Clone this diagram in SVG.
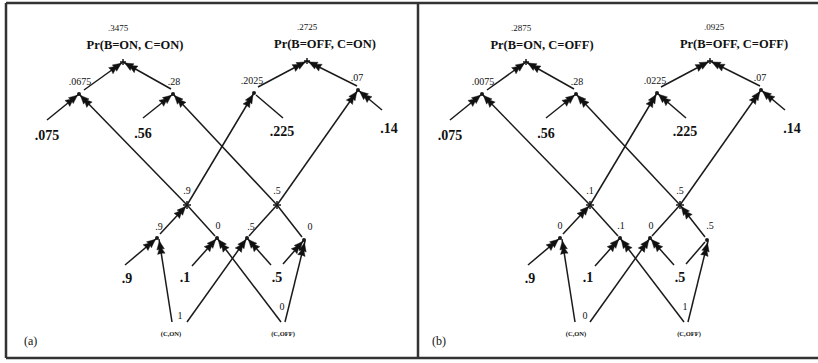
<svg xmlns="http://www.w3.org/2000/svg" width="818" height="363" viewBox="0 0 818 363">
<style>
.ln{stroke:#1a1a1a;stroke-width:1.5;fill:none}
.ar{marker-end:url(#dbl)}
.dot{fill:#1a1a1a}
.pl{stroke:#1a1a1a;stroke-width:1.5;fill:none}
text{font-family:"Liberation Serif","Times New Roman",serif;fill:#111;text-anchor:middle}
.leaf{font-size:14px;font-weight:bold}
.val{font-size:10px}
.top{font-size:9px}
.pr{font-size:12.5px;font-weight:bold}
.ev{font-size:6.5px;font-weight:bold}
.pan{font-size:12px;text-anchor:start}
.frame{stroke:#333;stroke-width:2.5;fill:none}
</style>
<defs>
<marker id="dbl" markerUnits="userSpaceOnUse" viewBox="-15 -5 18 10" refX="2" refY="0" markerWidth="18" markerHeight="10" orient="auto">
<path d="M0,0 L-8.5,-3.8 L-7.8,0 L-8.5,3.8 Z M-5,0 L-13,-3.8 L-12.3,0 L-13,3.8 Z" fill="#111" stroke="#111" stroke-width="0.4" stroke-linejoin="round"/>
</marker>
</defs>
<rect width="818" height="363" fill="#fff"/>
<path class="frame" d="M6,3 V358 M6,3 H818 M6,358 H818 M418,3 V358"/>

<!-- Panel (a) -->
<g id="panel-a">
<g id="connectors-a">
<path class="ln ar" d="M84,90 L123,62"/>
<path class="ln ar" d="M171,89 L123,62"/>
<path class="ln ar" d="M258,87 L307,61"/>
<path class="ln ar" d="M357,86 L307,61"/>
<path class="ln ar" d="M47,120 L79,94"/>
<path class="ln ar" d="M143,118 L173,94"/>
<path class="ln" d="M283,118 L256,95"/>
<path class="ln ar" d="M382,110 L358,90"/>
<path class="ln ar" d="M187,205 L79,94"/>
<path class="ln ar" d="M187,205 L254,93"/>
<path class="ln ar" d="M277,205 L173,94"/>
<path class="ln ar" d="M277,205 L358,90"/>
<path class="ln ar" d="M160,234 L187,205"/>
<path class="ln" d="M215,236 L187,205"/>
<path class="ln" d="M249,236 L277,205"/>
<path class="ln" d="M302,237 L277,205"/>
<path class="ln ar" d="M125,265 L157,238"/>
<path class="ln ar" d="M172,322 L159,239"/>
<path class="ln ar" d="M192,266 L217,238"/>
<path class="ln ar" d="M281,322 L217,238"/>
<path class="ln ar" d="M187,322 L247,238"/>
<path class="ln ar" d="M271,265 L247,238"/>
<path class="ln ar" d="M283,264 L304,240"/>
<path class="ln ar" d="M285,322 L305,241"/>
</g>
<g id="a-top1"><path class="pl" d="M120,62 H126 M123,59 V65"/><text class="top" x="118" y="31">.3475</text><text class="pr" x="135" y="49">Pr(B=ON, C=ON)</text></g>
<g id="a-top2"><path class="pl" d="M304,61 H310 M307,58 V64"/><text class="top" x="307" y="30">.2725</text><text class="pr" x="325" y="48">Pr(B=OFF, C=ON)</text></g>
<g id="a-p1"><circle class="dot" cx="79" cy="94" r="2"/><text class="val" x="80" y="85">.0675</text></g>
<g id="a-p2"><circle class="dot" cx="173" cy="94" r="2"/><text class="val" x="174" y="85">.28</text></g>
<g id="a-p3"><circle class="dot" cx="254" cy="93" r="2"/><text class="val" x="252" y="84">.2025</text></g>
<g id="a-p4"><circle class="dot" cx="358" cy="90" r="2"/><text class="val" x="357" y="81">.07</text></g>
<g id="a-l1"><text class="leaf" x="47" y="140">.075</text></g>
<g id="a-l2"><text class="leaf" x="143" y="138">.56</text></g>
<g id="a-l3"><text class="leaf" x="282" y="136">.225</text></g>
<g id="a-l4"><text class="leaf" x="389" y="133">.14</text></g>
<g id="a-s1"><path class="pl" d="M183,205 H191 M187,201 V209"/><text class="val" x="187" y="194">.9</text></g>
<g id="a-s2"><path class="pl" d="M273,205 H281 M277,201 V209"/><text class="val" x="277" y="194">.5</text></g>
<g id="a-na"><circle class="dot" cx="157" cy="238" r="2"/><text class="val" x="159" y="230">.9</text></g>
<g id="a-nb"><circle class="dot" cx="217" cy="238" r="2"/><text class="val" x="218" y="229">0</text></g>
<g id="a-nc"><circle class="dot" cx="247" cy="238" r="2"/><text class="val" x="251" y="230">.5</text></g>
<g id="a-nd"><circle class="dot" cx="304" cy="240" r="2"/><text class="val" x="310" y="230">0</text></g>
<g id="a-q1"><text class="leaf" x="127" y="283">.9</text></g>
<g id="a-q2"><text class="leaf" x="185" y="282">.1</text></g>
<g id="a-q3"><text class="leaf" x="277" y="282">.5</text></g>
<g id="a-e1"><text class="ev" x="171" y="336">(C,ON)</text><text class="val" x="180" y="319">1</text></g>
<g id="a-e2"><text class="ev" x="283" y="336">(C,OFF)</text><text class="val" x="282" y="310">0</text></g>
<text class="pan" x="24" y="345">(a)</text>
</g>

<!-- Panel (b) -->
<g id="panel-b" transform="translate(403,0)">
<g id="connectors-b">
<path class="ln ar" d="M84,90 L123,62"/>
<path class="ln ar" d="M171,89 L123,62"/>
<path class="ln ar" d="M258,87 L307,61"/>
<path class="ln ar" d="M357,86 L307,61"/>
<path class="ln ar" d="M47,120 L79,94"/>
<path class="ln ar" d="M143,118 L173,94"/>
<path class="ln ar" d="M283,118 L254,93"/>
<path class="ln ar" d="M382,110 L358,90"/>
<path class="ln ar" d="M187,205 L79,94"/>
<path class="ln ar" d="M187,205 L254,93"/>
<path class="ln ar" d="M277,205 L173,94"/>
<path class="ln ar" d="M277,205 L358,90"/>
<path class="ln ar" d="M160,234 L187,205"/>
<path class="ln" d="M215,236 L187,205"/>
<path class="ln" d="M249,236 L277,205"/>
<path class="ln ar" d="M302,237 L277,205"/>
<path class="ln ar" d="M125,265 L157,238"/>
<path class="ln ar" d="M172,322 L159,239"/>
<path class="ln ar" d="M192,266 L217,238"/>
<path class="ln ar" d="M281,322 L217,238"/>
<path class="ln ar" d="M187,322 L247,238"/>
<path class="ln ar" d="M271,265 L247,238"/>
<path class="ln" d="M283,264 L302,242"/>
<path class="ln ar" d="M285,322 L305,241"/>
</g>
<g id="b-top1"><path class="pl" d="M120,62 H126 M123,59 V65"/><text class="top" x="118" y="31">.2875</text><text class="pr" x="139" y="49">Pr(B=ON, C=OFF)</text></g>
<g id="b-top2"><path class="pl" d="M304,61 H310 M307,58 V64"/><text class="top" x="311" y="30">.0925</text><text class="pr" x="331" y="48">Pr(B=OFF, C=OFF)</text></g>
<g id="b-p1"><circle class="dot" cx="79" cy="94" r="2"/><text class="val" x="80" y="85">.0075</text></g>
<g id="b-p2"><circle class="dot" cx="173" cy="94" r="2"/><text class="val" x="174" y="85">.28</text></g>
<g id="b-p3"><circle class="dot" cx="254" cy="93" r="2"/><text class="val" x="252" y="84">.0225</text></g>
<g id="b-p4"><circle class="dot" cx="358" cy="90" r="2"/><text class="val" x="357" y="81">.07</text></g>
<g id="b-l1"><text class="leaf" x="47" y="140">.075</text></g>
<g id="b-l2"><text class="leaf" x="143" y="138">.56</text></g>
<g id="b-l3"><text class="leaf" x="282" y="136">.225</text></g>
<g id="b-l4"><text class="leaf" x="389" y="133">.14</text></g>
<g id="b-s1"><path class="pl" d="M183,205 H191 M187,201 V209"/><text class="val" x="187" y="194">.1</text></g>
<g id="b-s2"><path class="pl" d="M273,205 H281 M277,201 V209"/><text class="val" x="277" y="194">.5</text></g>
<g id="b-na"><circle class="dot" cx="157" cy="238" r="2"/><text class="val" x="157" y="229">0</text></g>
<g id="b-nb"><circle class="dot" cx="217" cy="238" r="2"/><text class="val" x="218" y="229">.1</text></g>
<g id="b-nc"><circle class="dot" cx="247" cy="238" r="2"/><text class="val" x="248" y="229">0</text></g>
<g id="b-nd"><circle class="dot" cx="304" cy="240" r="2"/><text class="val" x="307" y="229">.5</text></g>
<g id="b-q1"><text class="leaf" x="127" y="283">.9</text></g>
<g id="b-q2"><text class="leaf" x="185" y="282">.1</text></g>
<g id="b-q3"><text class="leaf" x="277" y="282">.5</text></g>
<g id="b-e1"><text class="ev" x="173" y="336">(C,ON)</text><text class="val" x="182" y="319">0</text></g>
<g id="b-e2"><text class="ev" x="286" y="336">(C,OFF)</text><text class="val" x="282" y="310">1</text></g>
<text class="pan" x="29" y="345">(b)</text>
</g>
</svg>
